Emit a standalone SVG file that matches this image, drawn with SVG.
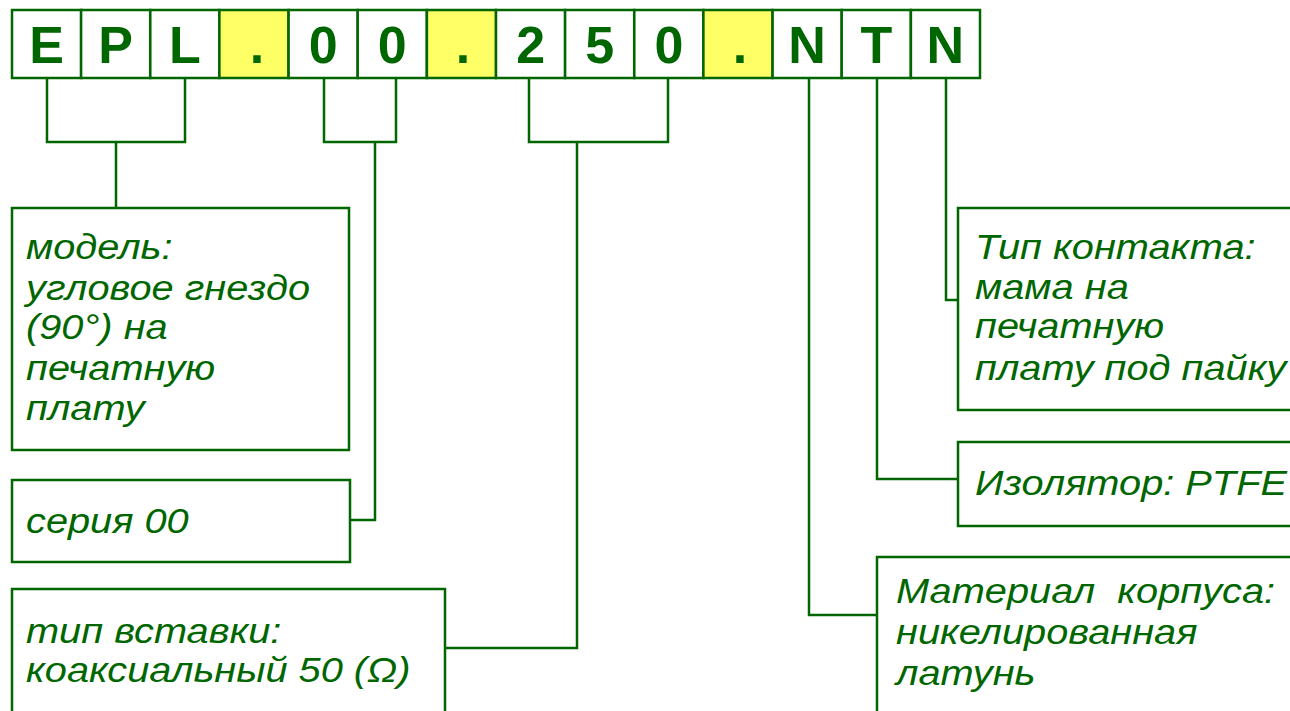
<svg xmlns="http://www.w3.org/2000/svg" width="1290" height="711" viewBox="0 0 1290 711">
<style>
.ln{fill:none;stroke:#006600;stroke-width:2.5}
.box{fill:#ffffff;stroke:#006600;stroke-width:2.5}
.cell{fill:#ffffff;stroke:#006600;stroke-width:2.5}
.dot{fill:#ffff66;stroke:#006600;stroke-width:2.5}
.ch{font-family:"Liberation Sans",Arial,sans-serif;font-weight:bold;font-size:52px;fill:#006600;text-anchor:middle}
.t{font-family:"Liberation Sans",Arial,sans-serif;font-style:italic;font-size:35.5px;fill:#006600}
</style>
<rect width="1290" height="711" fill="#ffffff"/>
<g id="code">
<rect class="cell" x="12" y="10" width="69.1" height="68"/>
<rect class="cell" x="81.1" y="10" width="69.1" height="68"/>
<rect class="cell" x="150.3" y="10" width="69.1" height="68"/>
<rect class="dot" x="219.4" y="10" width="69.1" height="68"/>
<rect class="cell" x="288.6" y="10" width="69.1" height="68"/>
<rect class="cell" x="357.7" y="10" width="69.1" height="68"/>
<rect class="dot" x="426.9" y="10" width="69.1" height="68"/>
<rect class="cell" x="496" y="10" width="69.1" height="68"/>
<rect class="cell" x="565.1" y="10" width="69.1" height="68"/>
<rect class="cell" x="634.3" y="10" width="69.1" height="68"/>
<rect class="dot" x="703.4" y="10" width="69.1" height="68"/>
<rect class="cell" x="772.6" y="10" width="69.1" height="68"/>
<rect class="cell" x="841.7" y="10" width="69.1" height="68"/>
<rect class="cell" x="910.9" y="10" width="69.1" height="68"/>
<text class="ch" x="46.6" y="63">E</text>
<text class="ch" x="115.7" y="63">P</text>
<text class="ch" x="184.9" y="63">L</text>
<text class="ch" x="257" y="63">.</text>
<text class="ch" x="323.1" y="63">0</text>
<text class="ch" x="392.3" y="63">0</text>
<text class="ch" x="463" y="63">.</text>
<text class="ch" x="530.6" y="63">2</text>
<text class="ch" x="599.7" y="63">5</text>
<text class="ch" x="668.9" y="63">0</text>
<text class="ch" x="740" y="63">.</text>
<text class="ch" x="807.1" y="63">N</text>
<text class="ch" x="876.3" y="63">T</text>
<text class="ch" x="945.4" y="63">N</text>
</g>
<g id="connectors">
<polyline class="ln" points="47,78 47,142 185,142 185,78"/>
<line class="ln" x1="116" y1="142" x2="116" y2="208"/>
<polyline class="ln" points="324,78 324,142 396,142 396,78"/>
<polyline class="ln" points="375,142 375,520 350,520"/>
<polyline class="ln" points="529,78 529,142 668,142 668,78"/>
<polyline class="ln" points="577,142 577,648 445,648"/>
<polyline class="ln" points="809,78 809,615 877,615"/>
<polyline class="ln" points="877,78 877,479 958,479"/>
<polyline class="ln" points="946,78 946,300 958,300"/>
</g>
<g id="model">
<rect class="box" x="12" y="208" width="337" height="242"/>
<text class="t" transform="translate(26,259) scale(1.12,1)">модель:</text>
<text class="t" transform="translate(26,300) scale(1.12,1)">угловое гнездо</text>
<text class="t" transform="translate(26,339) scale(1.12,1)">(90°) на</text>
<text class="t" transform="translate(26,380) scale(1.12,1)">печатную</text>
<text class="t" transform="translate(26,420) scale(1.12,1)">плату</text>
</g>
<g id="series">
<rect class="box" x="12" y="480" width="338" height="82"/>
<text class="t" transform="translate(26,533) scale(1.12,1)">серия 00</text>
</g>
<g id="insert">
<rect class="box" x="12" y="589" width="433" height="140"/>
<text class="t" transform="translate(26,643) scale(1.12,1)">тип вставки:</text>
<text class="t" transform="translate(26,682) scale(1.12,1)">коаксиальный 50 (Ω)</text>
</g>
<g id="contact">
<rect class="box" x="958" y="208" width="350" height="202"/>
<text class="t" transform="translate(975,259) scale(1.12,1)">Тип контакта:</text>
<text class="t" transform="translate(975,299) scale(1.12,1)">мама на</text>
<text class="t" transform="translate(975,338) scale(1.12,1)">печатную</text>
<text class="t" transform="translate(975,380) scale(1.12,1)">плату под пайку</text>
</g>
<g id="insulator">
<rect class="box" x="958" y="442" width="350" height="84"/>
<text class="t" transform="translate(975,495) scale(1.12,1)">Изолятор: PTFE</text>
</g>
<g id="material">
<rect class="box" x="877" y="557" width="430" height="170"/>
<text class="t" transform="translate(896,603) scale(1.12,1)" xml:space="preserve">Материал  корпуса:</text>
<text class="t" transform="translate(896,644) scale(1.12,1)">никелированная</text>
<text class="t" transform="translate(896,685) scale(1.12,1)">латунь</text>
</g>
</svg>
